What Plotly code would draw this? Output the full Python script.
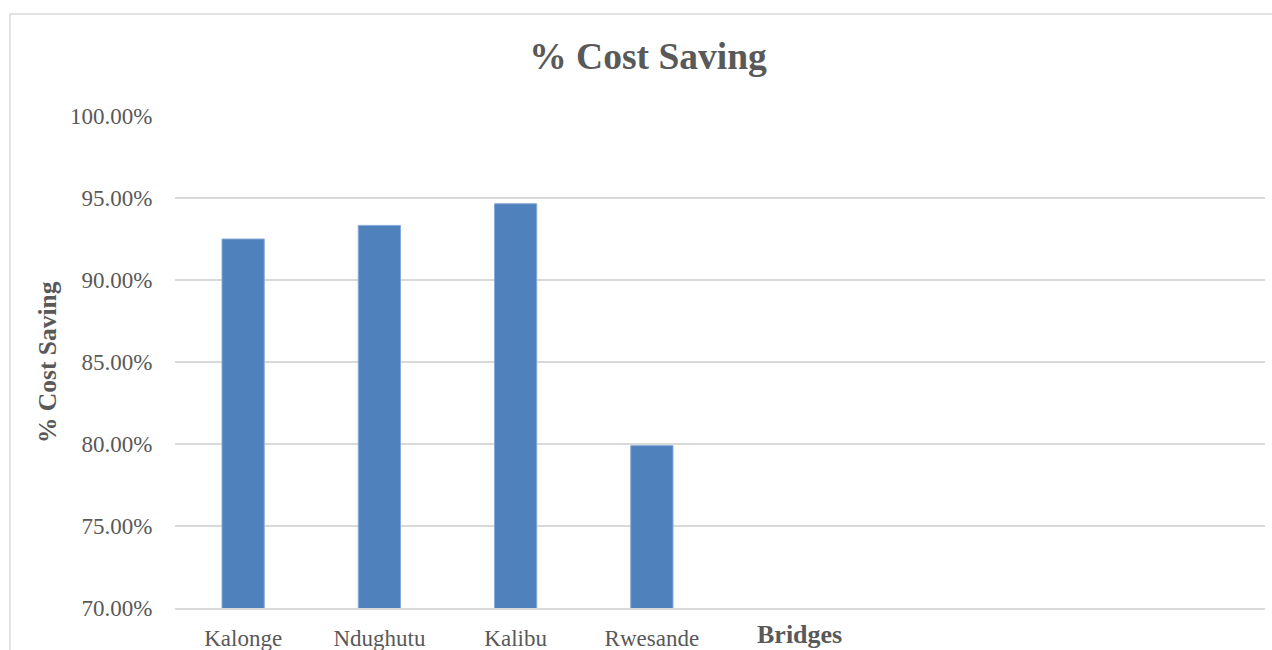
import plotly.graph_objects as go

categories = ["Kalonge", "Ndughutu", "Kalibu", "Rwesande"]
cost_saving = [0.925, 0.9333, 0.9465, 0.799]
y_ticks = [0.70, 0.75, 0.80, 0.85, 0.90, 0.95, 1.00]
n_slots = 8  # category slots on the axis (4 filled, 4 empty)

FONT = "Liberation Serif"
GREY = "#595959"

x_pos = list(range(len(categories)))

fig = go.Figure()
fig.add_trace(go.Bar(
    x=x_pos, y=cost_saving, width=0.31,
    marker=dict(color="#4F81BD", line=dict(color="#86A9D9", width=1)),
    showlegend=False,
))

fig.update_layout(
    width=1272, height=650,
    margin=dict(l=175, r=7, t=116, b=42),
    paper_bgcolor="white", plot_bgcolor="white",
    title=dict(text="<b>% Cost Saving</b>", x=648/1272, xanchor="center",
               y=1 - 56/650, yanchor="middle", yref="container",
               font=dict(family=FONT, size=37.5, color=GREY)),
    bargap=0.69,
)
fig.update_xaxes(
    range=[-0.5, n_slots - 0.5], tickmode="array", tickvals=x_pos, ticktext=categories,
    tickfont=dict(family=FONT, size=23, color=GREY), automargin=False,
    ticks="outside", ticklen=9, tickcolor="rgba(0,0,0,0)",
    showgrid=False, zeroline=False, showline=True, linecolor="#D9D9D9", linewidth=1.5,
)
fig.update_yaxes(
    range=[0.70, 1.00], tickmode="array", tickvals=y_ticks, tickformat=".2%",
    tickfont=dict(family=FONT, size=23, color=GREY), automargin=False,
    ticks="outside", ticklen=17, tickcolor="rgba(0,0,0,0)",
    showgrid=True, gridcolor="#D9D9D9", gridwidth=1.5, zeroline=False, showline=False,
)

# axis titles
fig.add_annotation(text="<b>% Cost Saving</b>", xref="paper", yref="paper",
                   x=(47 - 175) / 1090, y=0.5, textangle=-90, showarrow=False,
                   xanchor="center", yanchor="middle",
                   font=dict(family=FONT, size=25.5, color=GREY))
fig.add_annotation(text="<b>Bridges</b>", xref="paper", yref="paper",
                   x=(799 - 175) / 1090, y=(608 - 634) / 492, showarrow=False,
                   xanchor="center", yanchor="middle",
                   font=dict(family=FONT, size=26, color=GREY))

# chart border
fig.add_shape(type="rect", xref="paper", yref="paper",
              x0=(10 - 175) / 1090, x1=(1290 - 175) / 1090,
              y0=(608 - 670) / 492, y1=(608 - 14) / 492,
              line=dict(color="#D9D9D9", width=1.5), fillcolor="rgba(0,0,0,0)", layer="below")

fig.write_html("out.html")
